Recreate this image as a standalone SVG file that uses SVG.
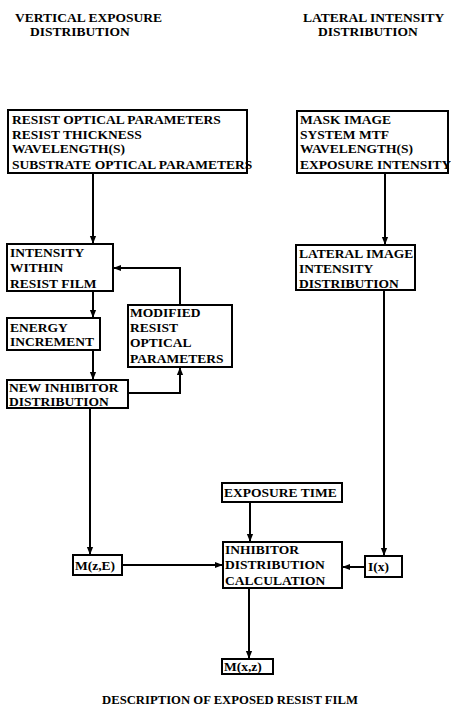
<svg xmlns="http://www.w3.org/2000/svg" width="451" height="720" viewBox="0 0 451 720">
<style>
.bg{fill:#fff}
.box{fill:#fff;stroke:#000;stroke-width:2}
.t{font-family:"Liberation Serif","Times New Roman",serif;font-weight:bold;font-size:13.5px;fill:#000}
.h{font-family:"Liberation Serif","Times New Roman",serif;font-weight:bold;font-size:13.5px;fill:#000}
.f{font-family:"Liberation Serif","Times New Roman",serif;font-weight:bold;font-size:12.7px;fill:#000}
.c{fill:none;stroke:#000;stroke-width:2}
</style>
<defs>
<marker id="ah" viewBox="0 0 10 10" refX="9" refY="5" markerWidth="4" markerHeight="4" orient="auto" markerUnits="strokeWidth">
<path d="M0,1 L10,5 L0,9 z" fill="#000"/>
</marker>
</defs>
<rect class="bg" x="0" y="0" width="451" height="720"/>
<g id="titles">
<text class="h" x="15" y="22">VERTICAL EXPOSURE</text>
<text class="h" x="30" y="36">DISTRIBUTION</text>
<text class="h" x="303" y="22">LATERAL INTENSITY</text>
<text class="h" x="318" y="36">DISTRIBUTION</text>
<text class="f" x="230" y="704" text-anchor="middle">DESCRIPTION OF EXPOSED RESIST FILM</text>
</g>
<g id="connectors">
<path class="c" d="M93,173 V243" marker-end="url(#ah)"/>
<path class="c" d="M385,173 V244" marker-end="url(#ah)"/>
<path class="c" d="M93,291 V317" marker-end="url(#ah)"/>
<path class="c" d="M93,350 V379" marker-end="url(#ah)"/>
<path class="c" d="M128,393 H180 V368" marker-end="url(#ah)"/>
<path class="c" d="M180,305 V268 H114" marker-end="url(#ah)"/>
<path class="c" d="M90,408 V554" marker-end="url(#ah)"/>
<path class="c" d="M122,565 H222" marker-end="url(#ah)"/>
<path class="c" d="M250,502 V541" marker-end="url(#ah)"/>
<path class="c" d="M384,290 V555" marker-end="url(#ah)"/>
<path class="c" d="M365,567 H343" marker-end="url(#ah)"/>
<path class="c" d="M249,588 V658" marker-end="url(#ah)"/>
</g>
<g id="resist-params">
<rect class="box" x="8" y="110" width="239" height="63"/>
<text class="t" x="12" y="124">RESIST OPTICAL PARAMETERS</text>
<text class="t" x="12" y="139">RESIST THICKNESS</text>
<text class="t" x="12" y="153">WAVELENGTH(S)</text>
<text class="t" x="12" y="169">SUBSTRATE OPTICAL PARAMETERS</text>
</g>
<g id="mask-params">
<rect class="box" x="297" y="111" width="151" height="62"/>
<text class="t" x="300" y="124">MASK IMAGE</text>
<text class="t" x="300" y="139">SYSTEM MTF</text>
<text class="t" x="300" y="153">WAVELENGTH(S)</text>
<text class="t" x="300" y="169">EXPOSURE INTENSITY</text>
</g>
<g id="intensity-within">
<rect class="box" x="7" y="244" width="106" height="47"/>
<text class="t" x="10" y="257">INTENSITY</text>
<text class="t" x="10" y="272">WITHIN</text>
<text class="t" x="10" y="288">RESIST FILM</text>
</g>
<g id="energy-increment">
<rect class="box" x="7" y="318" width="93" height="32"/>
<text class="t" x="10" y="332">ENERGY</text>
<text class="t" x="10" y="346">INCREMENT</text>
</g>
<g id="modified-params">
<rect class="box" x="128" y="305" width="104" height="62"/>
<text class="t" x="130" y="317">MODIFIED</text>
<text class="t" x="130" y="332">RESIST</text>
<text class="t" x="130" y="347">OPTICAL</text>
<text class="t" x="130" y="363">PARAMETERS</text>
</g>
<g id="new-inhibitor">
<rect class="box" x="7" y="380" width="121" height="28"/>
<text class="t" x="9" y="392">NEW INHIBITOR</text>
<text class="t" x="9" y="406">DISTRIBUTION</text>
</g>
<g id="lateral-image">
<rect class="box" x="296" y="245" width="119" height="45"/>
<text class="t" x="299" y="258">LATERAL IMAGE</text>
<text class="t" x="299" y="273">INTENSITY</text>
<text class="t" x="299" y="288">DISTRIBUTION</text>
</g>
<g id="exposure-time">
<rect class="box" x="222" y="483" width="120" height="19"/>
<text class="t" x="224" y="497">EXPOSURE TIME</text>
</g>
<g id="inhibitor-calc">
<rect class="box" x="223" y="542" width="119" height="46"/>
<text class="t" x="225" y="554">INHIBITOR</text>
<text class="t" x="225" y="569">DISTRIBUTION</text>
<text class="t" x="225" y="585">CALCULATION</text>
</g>
<g id="i-x">
<rect class="box" x="365" y="556" width="37" height="21"/>
<text class="t" x="368" y="571">I(x)</text>
</g>
<g id="m-z-e">
<rect class="box" x="73" y="555" width="49" height="20"/>
<text class="t" x="75" y="570">M(z,E)</text>
</g>
<g id="m-x-z">
<rect class="box" x="222" y="659" width="51" height="15"/>
<text class="t" x="224" y="671">M(x,z)</text>
</g>
</svg>
